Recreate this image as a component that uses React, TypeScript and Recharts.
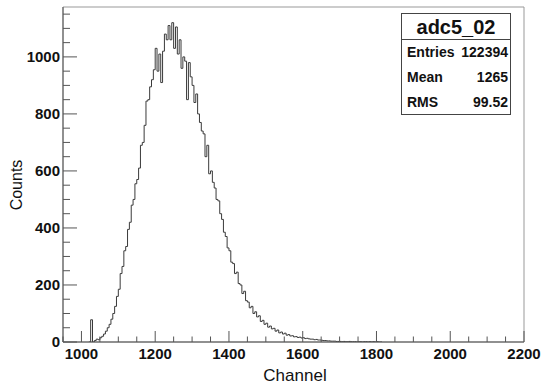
import { LineChart, Line, XAxis, YAxis, ReferenceArea } from 'recharts';

// histogram: 5-channel bins starting at channel 1020
const BIN_START = 1020;
const BIN_WIDTH = 5;
const COUNTS = [
  0, 78, 0, 5, 10, 8, 15, 20, 28, 38,
  50, 62, 80, 100, 125, 160, 185, 240, 265, 320,
  335, 395, 420, 480, 500, 555, 570, 610, 690, 700,
  760, 845, 850, 895, 920, 955, 1030, 950, 1010, 910,
  1020, 1080, 1060, 1110, 1060, 1120, 1030, 1105, 1010, 1060,
  960, 1000, 985, 850, 980, 930, 900, 840, 870, 800,
  770, 740, 730, 650, 690, 590, 600, 560, 540, 500,
  495, 450, 430, 385, 370, 330, 320, 280, 275, 240,
  245, 205, 200, 170, 178, 145, 140, 120, 125, 100,
  106, 88, 92, 72, 76, 62, 66, 52, 56, 46,
  48, 38, 42, 32, 35, 28, 31, 24, 26, 21,
  22, 18, 19, 16, 17, 14, 15, 12, 13, 11,
  10, 10, 8, 9, 7, 7, 6, 5, 5, 4,
  4, 3, 3, 3, 2, 2, 2, 1, 2, 1,
  1, 2, 1, 1, 1, 0, 1, 1, 0, 1,
  1, 0, 1, 0, 1, 0, 1, 0, 0, 0,
];

const X_TICKS = [
  950, 1000, 1050, 1100, 1150, 1200, 1250, 1300, 1350, 1400, 1450, 1500, 1550,
  1600, 1650, 1700, 1750, 1800, 1850, 1900, 1950, 2000, 2050, 2100, 2150, 2200,
];
const X_LABELS = [1000, 1200, 1400, 1600, 1800, 2000, 2200];
const Y_TICKS = [
  0, 50, 100, 150, 200, 250, 300, 350, 400, 450, 500, 550, 600, 650, 700, 750,
  800, 850, 900, 950, 1000, 1050, 1100, 1150,
];
const Y_LABELS = [0, 200, 400, 600, 800, 1000];

const STATS = [
  ['Entries', '122394'],
  ['Mean', '1265'],
  ['RMS', '99.52'],
];

const FONT = '"Liberation Sans", Arial, Helvetica, sans-serif';
const AXIS = '#555';

const data = COUNTS.map((c, i) => ({ ch: BIN_START + i * BIN_WIDTH, n: c }));

function XTick({ x, y, payload }: any) {
  const major = X_LABELS.includes(payload.value);
  return (
    <g>
      <line x1={x} y1={y} x2={x} y2={y - (major ? 11 : 5.5)} stroke={AXIS} />
      {major && (
        <text x={x} y={y + 17} textAnchor="middle" fontFamily={FONT} fontWeight="bold" fontSize={15} fill="#111">
          {payload.value}
        </text>
      )}
    </g>
  );
}

function YTick({ x, y, payload }: any) {
  const major = Y_LABELS.includes(payload.value);
  return (
    <g>
      <line x1={x} y1={y} x2={x + (major ? 14 : 7)} y2={y} stroke={AXIS} />
      {major && (
        <text x={x - 3} y={y + 5} textAnchor="end" fontFamily={FONT} fontWeight="bold" fontSize={15} fill="#111">
          {payload.value}
        </text>
      )}
    </g>
  );
}

export default function App() {
  return (
    <div style={{ position: 'absolute', left: 0, top: 0, width: 542, height: 387, background: '#fff' }}>
      <LineChart width={542} height={387} data={data} margin={{ top: 7, right: 18, bottom: 0, left: 0 }}>
        <ReferenceArea x1={950} x2={2200} y1={0} y2={1175} fill="none" stroke="#999" />
        <XAxis
          dataKey="ch"
          type="number"
          domain={[950, 2200]}
          allowDataOverflow
          ticks={X_TICKS}
          interval={0}
          height={45}
          tickSize={0}
          tickMargin={0}
          tickLine={false}
          axisLine={{ stroke: AXIS }}
          tick={<XTick />}
        />
        <YAxis
          type="number"
          domain={[0, 1175]}
          allowDataOverflow
          ticks={Y_TICKS}
          interval={0}
          width={63}
          tickSize={0}
          tickMargin={0}
          tickLine={false}
          axisLine={{ stroke: AXIS }}
          tick={<YTick />}
        />
        <Line
          dataKey="n"
          type="stepAfter"
          stroke="#3a3a3a"
          strokeWidth={1}
          dot={false}
          isAnimationActive={false}
        />
      </LineChart>

      <div
        style={{
          position: 'absolute', left: 0, top: 367, width: 590, textAlign: 'center',
          fontFamily: FONT, fontSize: 17, color: '#111', lineHeight: '18px',
        }}
      >
        Channel
      </div>
      <div
        style={{
          position: 'absolute', left: 17, top: 185, transform: 'translate(-50%, -50%) rotate(-90deg)',
          fontFamily: FONT, fontSize: 16, color: '#111', whiteSpace: 'nowrap', lineHeight: '16px',
        }}
      >
        Counts
      </div>

      <div
        style={{
          position: 'absolute', left: 401, top: 13, width: 108, height: 100,
          border: '1px solid #444', background: '#fff', fontFamily: FONT, color: '#111',
        }}
      >
        <div
          style={{
            height: 25, borderBottom: '1px solid #444', textAlign: 'center',
            fontSize: 20, fontWeight: 'bold', lineHeight: '27px',
          }}
        >
          adc5_02
        </div>
        {STATS.map(([k, v]) => (
          <div
            key={k}
            style={{
              display: 'flex', justifyContent: 'space-between', padding: '0 2px 0 5px',
              fontSize: 14, fontWeight: 'bold', height: 25, lineHeight: '25px',
            }}
          >
            <span>{k}</span>
            <span>{v}</span>
          </div>
        ))}
      </div>
    </div>
  );
}
